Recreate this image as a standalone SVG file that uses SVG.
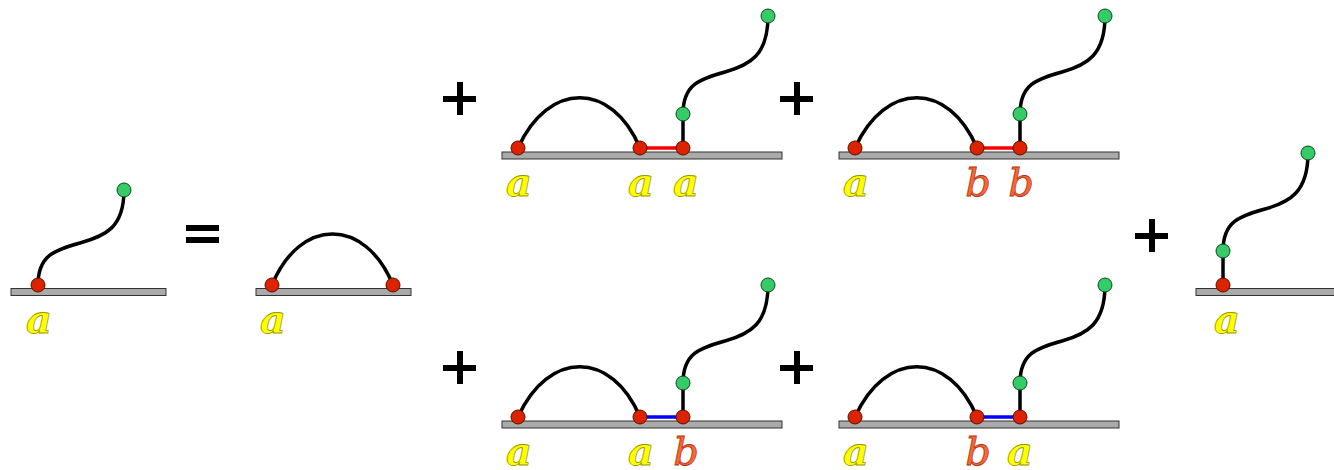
<svg xmlns="http://www.w3.org/2000/svg" width="1334" height="470" viewBox="0 0 1334 470">
<defs>
<style>
.bar{fill:#aaaaaa;stroke:#333333;stroke-width:1}
.red{fill:#dd2200;stroke:#551100;stroke-width:1}
.grn{fill:#33cc66;stroke:#114422;stroke-width:1}
.cur{fill:none;stroke:#000000;stroke-width:3.5;stroke-linecap:round}
.lr{stroke:#ff0000;stroke-width:3.5}
.lb{stroke:#0000ff;stroke-width:3.5}
.op{fill:#000000}
.la{font-family:"DejaVu Serif",serif;font-style:italic;font-weight:bold;font-size:40px;text-anchor:middle;fill:#ffff00;stroke:#999900;stroke-width:0.8}
.lbb{font-family:"DejaVu Serif",serif;font-style:italic;font-weight:normal;font-size:40px;text-anchor:middle;fill:#ff6633;stroke:#aa3311;stroke-width:0.8}
</style>
</defs>
<rect width="1334" height="470" fill="#ffffff"/>
<g id="operators">
<rect class="op" x="186" y="225" width="33" height="6"/>
<rect class="op" x="186" y="237" width="33" height="6"/>
<rect class="op" x="457" y="82" width="6" height="33"/><rect class="op" x="443" y="96" width="33" height="6"/>
<rect class="op" x="794" y="82" width="6" height="33"/><rect class="op" x="780" y="96" width="33" height="6"/>
<rect class="op" x="457" y="351" width="6" height="33"/><rect class="op" x="443" y="365" width="33" height="6"/>
<rect class="op" x="794" y="351" width="6" height="33"/><rect class="op" x="780" y="365" width="33" height="6"/>
<rect class="op" x="1149" y="219" width="6" height="33"/><rect class="op" x="1135" y="233" width="33" height="6"/>
</g>
<g id="connectors">
<path class="cur" d="M38,285 C38,255 55,250 80,243 C105,236 124,228 124,190"/>
<path class="cur" d="M272,285 C300,217 365,217 393,285"/>
<path class="cur" d="M518,148 C548,81 612,81 640,148"/>
<line class="lr" x1="640" y1="148" x2="683" y2="148"/>
<line class="cur" x1="683" y1="148" x2="683" y2="114"/>
<path class="cur" d="M683,114 C683,84 700,79 725,72 C750,65 768,55 768,16"/>
<path class="cur" d="M855,148 C885,81 949,81 977,148"/>
<line class="lr" x1="977" y1="148" x2="1020" y2="148"/>
<line class="cur" x1="1020" y1="148" x2="1020" y2="114"/>
<path class="cur" d="M1020,114 C1020,84 1037,79 1062,72 C1087,65 1105,55 1105,16"/>
<path class="cur" d="M518,417 C548,350 612,350 640,417"/>
<line class="lb" x1="640" y1="417" x2="683" y2="417"/>
<line class="cur" x1="683" y1="417" x2="683" y2="383"/>
<path class="cur" d="M683,383 C683,353 700,348 725,341 C750,334 768,324 768,285"/>
<path class="cur" d="M855,417 C885,350 949,350 977,417"/>
<line class="lb" x1="977" y1="417" x2="1020" y2="417"/>
<line class="cur" x1="1020" y1="417" x2="1020" y2="383"/>
<path class="cur" d="M1020,383 C1020,353 1037,348 1062,341 C1087,334 1105,324 1105,285"/>
<line class="cur" x1="1223" y1="285" x2="1223" y2="251"/>
<path class="cur" d="M1223,251 C1223,221 1240,216 1265,209 C1290,202 1308,192 1308,153"/>
</g>
<g id="panel1">
<rect class="bar" x="11" y="288.5" width="155" height="7"/>
<circle class="red" cx="38" cy="285" r="7"/>
<circle class="grn" cx="124" cy="190" r="7"/>
<text class="la" x="39" y="333">a</text>
</g>
<g id="panel2">
<rect class="bar" x="256" y="288.5" width="155" height="7"/>
<circle class="red" cx="272" cy="285" r="7"/>
<circle class="red" cx="393" cy="285" r="7"/>
<text class="la" x="273" y="333">a</text>
</g>
<g id="panel3">
<rect class="bar" x="502" y="152" width="280" height="7"/>
<circle class="red" cx="518" cy="148" r="7"/>
<circle class="red" cx="640" cy="148" r="7"/>
<circle class="red" cx="683" cy="148" r="7"/>
<circle class="grn" cx="683" cy="114" r="7"/>
<circle class="grn" cx="768" cy="16" r="7"/>
<text class="la" x="519" y="196">a</text>
<text class="la" x="641" y="196">a</text>
<text class="la" x="686" y="196">a</text>
</g>
<g id="panel4">
<rect class="bar" x="839" y="152" width="280" height="7"/>
<circle class="red" cx="855" cy="148" r="7"/>
<circle class="red" cx="977" cy="148" r="7"/>
<circle class="red" cx="1020" cy="148" r="7"/>
<circle class="grn" cx="1020" cy="114" r="7"/>
<circle class="grn" cx="1105" cy="16" r="7"/>
<text class="la" x="856" y="196">a</text>
<text class="lbb" x="978" y="196">b</text>
<text class="lbb" x="1021" y="196">b</text>
</g>
<g id="panel5">
<rect class="bar" x="502" y="421" width="280" height="7"/>
<circle class="red" cx="518" cy="417" r="7"/>
<circle class="red" cx="640" cy="417" r="7"/>
<circle class="red" cx="683" cy="417" r="7"/>
<circle class="grn" cx="683" cy="383" r="7"/>
<circle class="grn" cx="768" cy="285" r="7"/>
<text class="la" x="519" y="465">a</text>
<text class="la" x="641" y="465">a</text>
<text class="lbb" x="686" y="465">b</text>
</g>
<g id="panel6">
<rect class="bar" x="839" y="421" width="280" height="7"/>
<circle class="red" cx="855" cy="417" r="7"/>
<circle class="red" cx="977" cy="417" r="7"/>
<circle class="red" cx="1020" cy="417" r="7"/>
<circle class="grn" cx="1020" cy="383" r="7"/>
<circle class="grn" cx="1105" cy="285" r="7"/>
<text class="la" x="856" y="465">a</text>
<text class="lbb" x="978" y="465">b</text>
<text class="la" x="1020" y="465">a</text>
</g>
<g id="panel7">
<rect class="bar" x="1196" y="288.5" width="150" height="7"/>
<circle class="red" cx="1223" cy="285" r="7"/>
<circle class="grn" cx="1223" cy="251" r="7"/>
<circle class="grn" cx="1308" cy="153" r="7"/>
<text class="la" x="1227" y="333">a</text>
</g>
</svg>
